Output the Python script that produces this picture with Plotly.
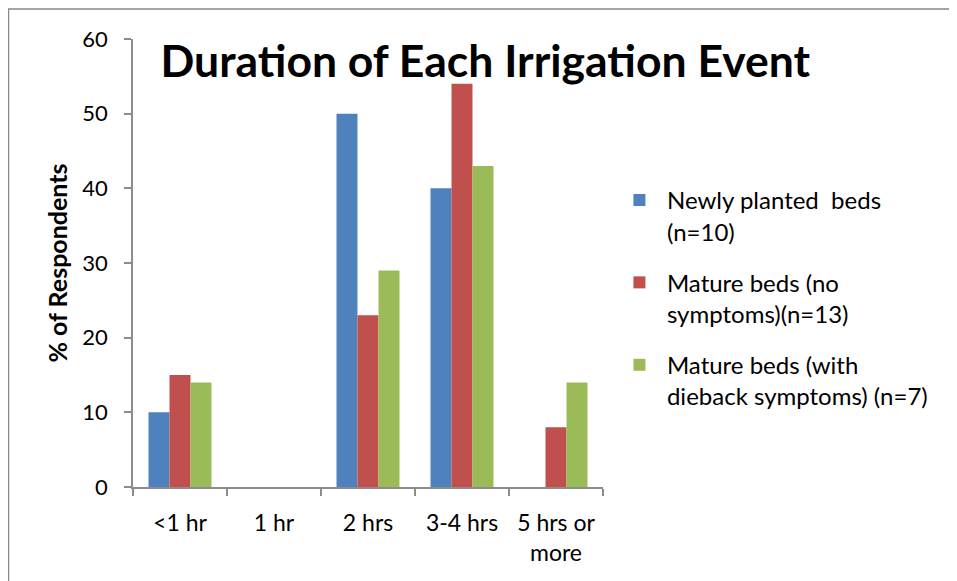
import plotly.graph_objects as go

categories = ["<1 hr", "1 hr", "2 hrs", "3-4 hrs", "5 hrs or<br>more"]
newly_planted = [10, 0, 50, 40, 0]
mature_no_symptoms = [15, 0, 23, 54, 8]
mature_dieback = [14, 0, 29, 43, 14]
series_names = [
    "Newly planted  beds<br>(n=10)",
    "Mature beds (no<br>symptoms)(n=13)",
    "Mature beds (with<br>dieback symptoms) (n=7)",
]
colors = ["#4F81BD", "#C0504D", "#9BBB59"]

font_family = "Lato, 'Open Sans', sans-serif"

fig = go.Figure()
for i, (name, vals, col) in enumerate(zip(series_names,
                                          [newly_planted, mature_no_symptoms, mature_dieback],
                                          colors)):
    fig.add_trace(go.Bar(
        x=categories, y=vals, name=name, legendgroup=f"g{i}",
        marker=dict(color=col, line=dict(width=0)),
    ))

axis_col = "#8c8c8c"

# page body adds an 8px margin, so the figure is 949x573
fig.update_layout(
    width=949, height=573,
    barmode="group",
    bargap=0.33,
    bargroupgap=0,
    plot_bgcolor="white",
    paper_bgcolor="white",
    margin=dict(l=125, r=354, t=31, b=94),
    font=dict(family=font_family, size=23, color="black"),
    title=dict(
        text="<b>Duration of Each Irrigation Event</b>",
        font=dict(size=44.5, family=font_family, color="black"),
        x=0.503, xanchor="center", xref="container",
        y=0.906, yanchor="middle", yref="container",
    ),
    xaxis=dict(
        showline=True, linecolor=axis_col, linewidth=1.5,
        ticks="outside", ticklen=7, tickcolor=axis_col, tickwidth=1.5,
        tickson="boundaries", ticklabelstandoff=15,
        showgrid=False, zeroline=False,
        tickfont=dict(size=23),
    ),
    yaxis=dict(
        range=[0, 60], dtick=10,
        showline=True, linecolor=axis_col, linewidth=1.5,
        ticks="outside", ticklen=7, tickcolor=axis_col, tickwidth=1.5,
        ticklabelstandoff=12,
        showgrid=False, zeroline=False,
        tickfont=dict(size=22),
        title=dict(text="<b>% of Respondents</b>", font=dict(size=25), standoff=8),
    ),
    legend=dict(
        x=1.019, xanchor="left", y=0.69, yanchor="top",
        font=dict(size=24),
        tracegroupgap=17,
        itemwidth=45,
        valign="top",
        traceorder="grouped",
    ),
    showlegend=True,
    shapes=[dict(
        type="rect", xref="paper", yref="paper",
        x0=-0.2649, x1=1.738, y0=-0.25, y1=1.067,
        line=dict(color="#888888", width=1.5),
        fillcolor="rgba(0,0,0,0)", layer="below",
    )],
)

fig.write_html("out.html")
